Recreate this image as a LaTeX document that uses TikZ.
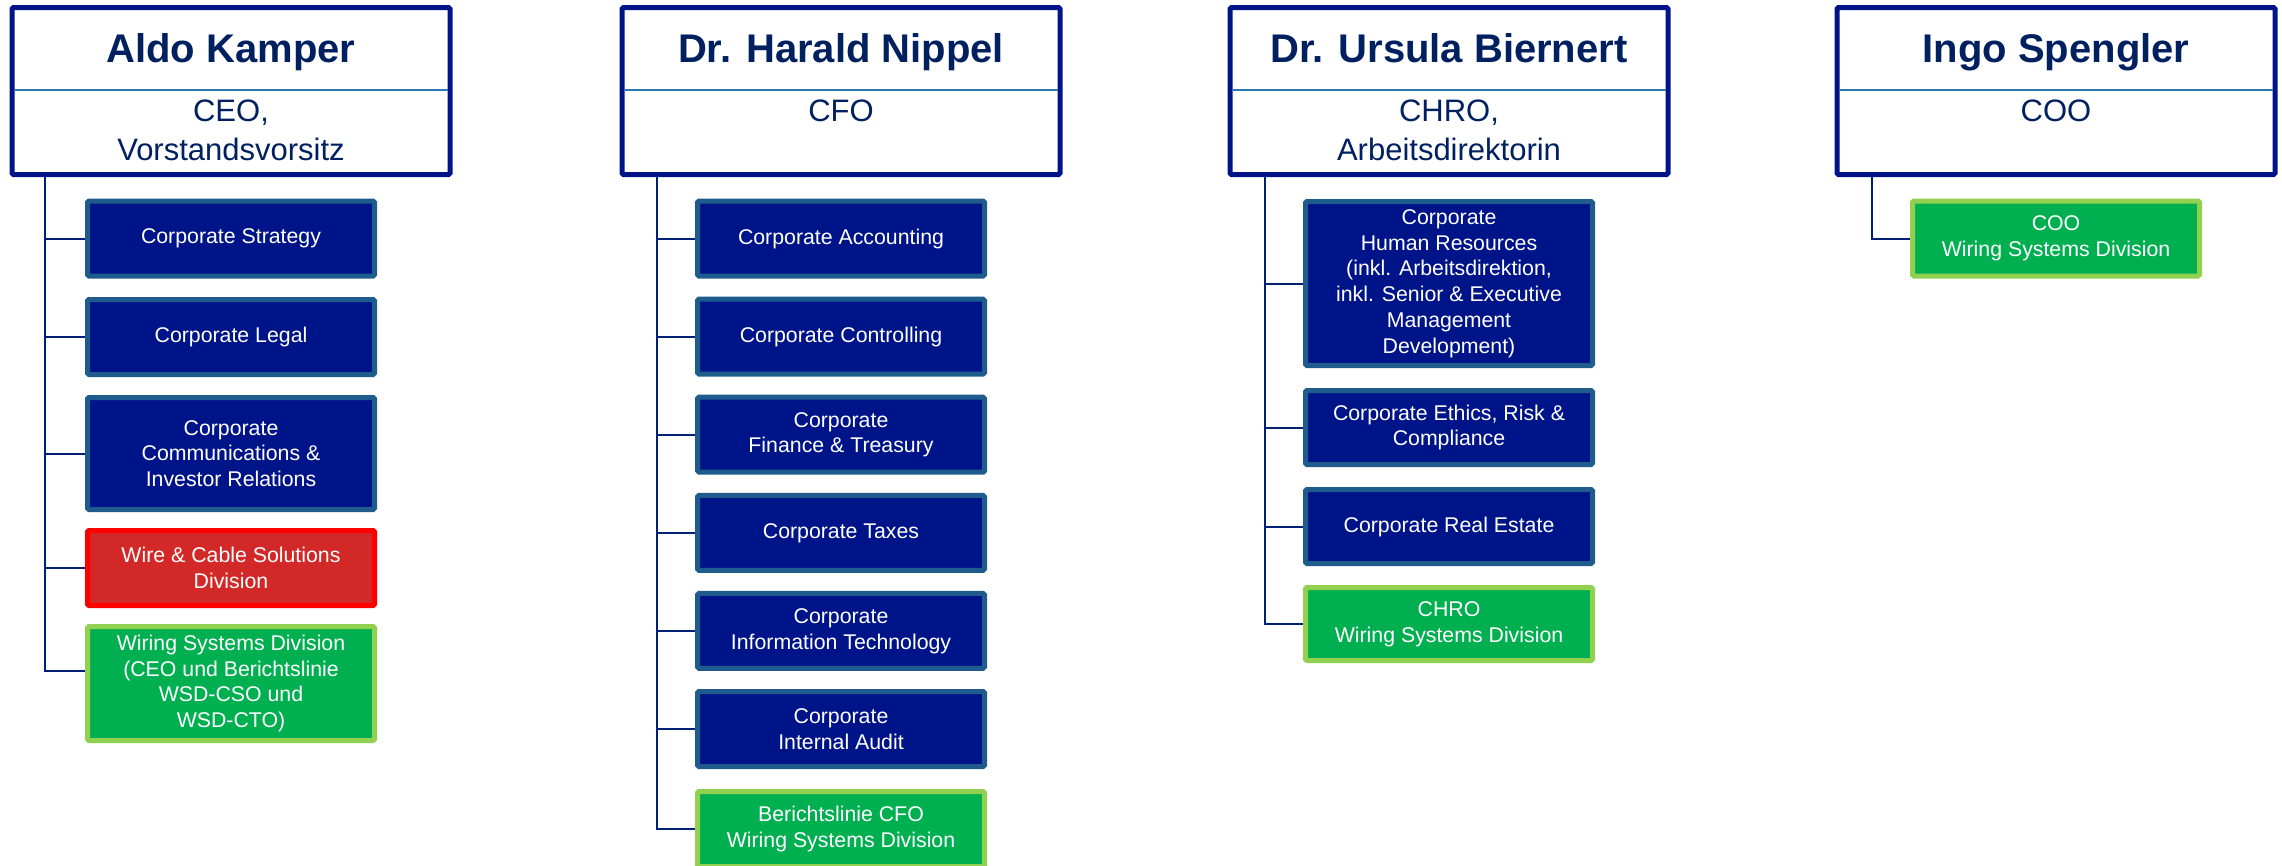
\documentclass[tikz,border=0pt]{standalone}
\usepackage{fontspec}
\setmainfont{Liberation Sans}
\definecolor{headblue}{RGB}{0,20,137}
\definecolor{namenavy}{RGB}{0,32,96}
\definecolor{rulecol}{RGB}{46,117,182}
\definecolor{unitfill}{RGB}{0,20,137}
\definecolor{unitline}{RGB}{31,92,142}
\definecolor{wcsfill}{RGB}{211,40,40}
\definecolor{wcsline}{RGB}{255,0,0}
\definecolor{wsdfill}{RGB}{0,176,80}
\definecolor{wsdline}{RGB}{146,208,80}
\definecolor{linknavy}{RGB}{0,32,120}
\tikzset{
  head/.style={draw=headblue, line width=5pt, fill=white, rounded corners=1.5pt, minimum width=438pt, minimum height=167pt, inner sep=0pt},
  person/.style={text=namenavy, font=\bfseries\fontsize{40}{47}\selectfont, anchor=base, inner sep=0pt},
  role/.style={text=namenavy, font=\fontsize{31}{39}\selectfont, align=center, anchor=north, inner sep=0pt},
  unit/.style={draw=unitline, fill=unitfill, line width=5pt, rounded corners=1.5pt, text=white, font=\fontsize{21.3}{25.8}\selectfont, align=center, minimum width=287pt, minimum height=75pt, inner sep=0pt},
  wcs/.style={unit, draw=wcsline, fill=wcsfill},
  wsd/.style={unit, draw=wsdline, fill=wsdfill},
  link/.style={draw=linknavy, line width=2pt},
  divider/.style={draw=rulecol, line width=2.5pt}
}
\begin{document}
\begin{tikzpicture}[x=1pt,y=-1pt]
    \useasboundingbox (0,0) rectangle (2282,865);

    \node[head] (h1) at (231,91) {};
    \node[head] (h2) at (841,91) {};
    \node[head] (h3) at (1449,91) {};
    \node[head] (h4) at (2056,91) {};
    \foreach \h in {h1,h2,h3,h4}
      \draw[divider] ([xshift=5,yshift=-85]\h.north west) -- ([xshift=-5,yshift=-85]\h.north east);

    \node[person] (n1) at ([yshift=-57]h1.north) {Aldo Kamper};
    \node[role] (r1) at ([yshift=-94.7]h1.north) {CEO,\\Vorstandsvorsitz};
    \node[person] (n2) at ([yshift=-57]h2.north) {Dr. Harald Nippel};
    \node[role] (r2) at ([yshift=-94.7]h2.north) {CFO};
    \node[person] (n3) at ([yshift=-57]h3.north) {Dr. Ursula Biernert};
    \node[role] (r3) at ([yshift=-94.7]h3.north) {CHRO,\\Arbeitsdirektorin};
    \node[person] (n4) at ([yshift=-57]h4.north) {Ingo Spengler};
    \node[role] (r4) at ([yshift=-94.7]h4.north) {COO};

    \node[unit] (s11) at (231,238.5) {Corporate Strategy};
    \node[unit] (s12) at (231,337) {Corporate Legal};
    \node[unit, minimum height=112pt] (s13) at (231,453.5) {Corporate\\Communications \&\\Investor Relations};
    \node[wcs] (s14) at (231,568) {Wire \& Cable Solutions\\Division};
    \node[wsd, minimum height=114pt] (s15) at (231,683.5) {Wiring Systems Division\\(CEO und Berichtslinie\\WSD-CSO und\\WSD-CTO)};

    \node[unit] (s21) at (841,238.5) {Corporate Accounting};
    \node[unit] (s22) at (841,336.6) {Corporate Controlling};
    \node[unit] (s23) at (841,434.7) {Corporate\\Finance \& Treasury};
    \node[unit] (s24) at (841,532.8) {Corporate Taxes};
    \node[unit] (s25) at (841,630.9) {Corporate\\Information Technology};
    \node[unit] (s26) at (841,729) {Corporate\\Internal Audit};
    \node[wsd] (s27) at (841,829) {Berichtslinie CFO\\Wiring Systems Division};

    \node[unit, minimum height=164pt] (s31) at (1449,283.5) {Corporate\\Human Resources\\(inkl. Arbeitsdirektion,\\inkl. Senior \& Executive\\Management\\Development)};
    \node[unit, minimum height=74pt] (s32) at (1449,427.5) {Corporate Ethics, Risk \&\\Compliance};
    \node[unit, minimum height=74pt] (s33) at (1449,526.5) {Corporate Real Estate};
    \node[wsd, minimum height=73pt] (s34) at (1449,624) {CHRO\\Wiring Systems Division};

    \node[wsd] (s41) at (2056,238.5) {COO\\Wiring Systems Division};

    \coordinate (v1) at ([xshift=35]h1.south west);
    \coordinate (v2) at ([xshift=37]h2.south west);
    \coordinate (v3) at ([xshift=37]h3.south west);
    \coordinate (v4) at ([xshift=37]h4.south west);

    \draw[link] (v1) |- ([yshift=12.5]s15.west);
    \foreach \s in {s11,s12,s13,s14}
      \draw[link] (v1 |- \s.west) -- (\s.west);
    \draw[link] (v2) |- (s27.west);
    \foreach \s in {s21,s22,s23,s24,s25,s26}
      \draw[link] (v2 |- \s.west) -- (\s.west);
    \draw[link] (v3) |- (s34.west);
    \foreach \s in {s31,s32,s33}
      \draw[link] (v3 |- \s.west) -- (\s.west);
    \draw[link] (v4) |- (s41.west);
\end{tikzpicture}
\end{document}
